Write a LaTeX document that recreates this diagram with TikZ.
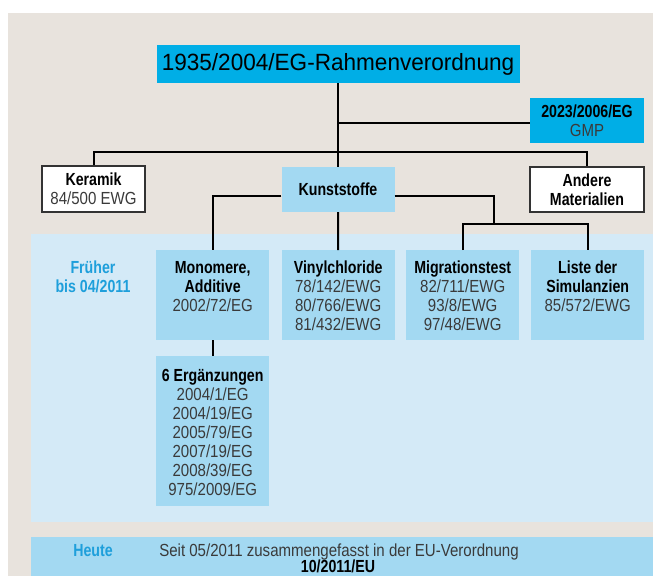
\documentclass[tikz,border=0pt]{standalone}
\usepackage{fontspec}
\setmainfont{Liberation Sans}[FakeStretch=0.86, BoldFeatures={FakeStretch=0.81}]
\newfontfamily\titlefont{Liberation Sans}[FakeStretch=0.96]
\definecolor{bgbeige}{HTML}{E8E3DD}
\definecolor{panelblue}{HTML}{D4EAF7}
\definecolor{boxblue}{HTML}{A3D9F2}
\definecolor{cyanbox}{HTML}{00AEE6}
\definecolor{labelblue}{HTML}{1E9FDB}
\definecolor{txtgray}{HTML}{3A3A3A}
\definecolor{borderg}{HTML}{333333}
\newcommand{\coltext}[3]{\parbox[c][#1pt][t]{113pt}{\centering\rule{0pt}{#2pt}#3}}
\tikzset{
  body/.style={font=\fontsize{17.5}{19}\selectfont, text=txtgray},
  colbox/.style={body, fill=boxblue, inner sep=0pt, anchor=north west},
  whitebox/.style={body, fill=white, draw=borderg, line width=1.1pt, inner sep=0pt, align=center},
  bluebox/.style={body, fill=boxblue, inner sep=0pt, align=center},
  cyanb/.style={body, fill=cyanbox, inner sep=0pt, align=center},
  conn/.style={line width=2pt, black},
  lbl/.style={font=\fontsize{17.5}{19}\selectfont\bfseries, text=labelblue, inner sep=0pt, align=center}
}
\newcommand{\hd}[1]{\textbf{\color{black}#1}}
\begin{document}
\begin{tikzpicture}[x=1pt,y=1pt]
\useasboundingbox (0,0) rectangle (653,-576);
\fill[white] (0,0) rectangle (653,-576);
\fill[bgbeige] (8,-13) rectangle (653,-576);
\fill[panelblue] (31,-234) rectangle (653,-522);
\fill[boxblue] (31,-537) rectangle (653,-576);

% top level
\node[fill=cyanbox, minimum width=363, minimum height=38, inner sep=0pt,
      font=\titlefont\fontsize{23.5}{26}\selectfont, text=black] (T) at (338,-64) {1935/2004/EG-Rahmenverordnung};
\node[cyanb, minimum width=114, minimum height=45] (G) at (587,-120.5) {\hd{2023/2006/EG}\\GMP};
\node[whitebox, minimum width=103, minimum height=46] (Ker) at (93.5,-189) {\hd{Keramik}\\84/500 EWG};
\node[bluebox, minimum width=113, minimum height=45] (K) at (338,-189.5) {\hd{Kunststoffe}};
\node[whitebox, minimum width=114, minimum height=45] (And) at (587,-189.5) {\hd{Andere}\\\hd{Materialien}};

% columns
\node[colbox] (Mono) at (156,-250) {\coltext{90}{23}{\hd{Monomere,}\\\hd{Additive}\\2002/72/EG}};
\node[colbox] (Vin) at (281.5,-250) {\coltext{90}{23}{\hd{Vinylchloride}\\78/142/EWG\\80/766/EWG\\81/432/EWG}};
\node[colbox] (Mig) at (406,-250) {\coltext{90}{23}{\hd{Migrationstest}\\82/711/EWG\\93/8/EWG\\97/48/EWG}};
\node[colbox] (Lis) at (531,-250) {\coltext{90}{23}{\hd{Liste der}\\\hd{Simulanzien}\\85/572/EWG}};
\node[colbox] (Erg) at (156,-356) {\coltext{150}{25}{\hd{6 Ergänzungen}\\2004/1/EG\\2004/19/EG\\2005/79/EG\\2007/19/EG\\2008/39/EG\\975/2009/EG}};

% labels
\node[lbl, anchor=north] (fr) at (93,-261) {Früher\\bis 04/2011};
\node[lbl, anchor=base] (he) at (93,-556) {Heute};
\node[body, anchor=base, inner sep=0pt] (seit) at (339,-556) {Seit 05/2011 zusammengefasst in der EU-Verordnung};
\node[body, anchor=base, inner sep=0pt] (eu) at (338,-572.5) {\hd{10/2011/EU}};

% connectors
\coordinate (j1) at (338,-123);
\coordinate (j2) at (338,-152);
\coordinate (j3) at (494,-224);
\draw[conn] (T.south) -- (K.north);
\draw[conn] (j1) -- (j1 -| G.west);
\draw[conn] (Ker.north) |- (j2) -| (And.north);
\draw[conn] ([yshift=-6.5pt]K.west) -| (Mono.north);
\draw[conn] ([yshift=-6.5pt]K.east) -| (j3);
\draw[conn] (Mig.north) |- (j3) -| (Lis.north);
\draw[conn] (K.south) -- (Vin.north);
\draw[conn] (Mono.south) -- (Erg.north);
\end{tikzpicture}
\end{document}
